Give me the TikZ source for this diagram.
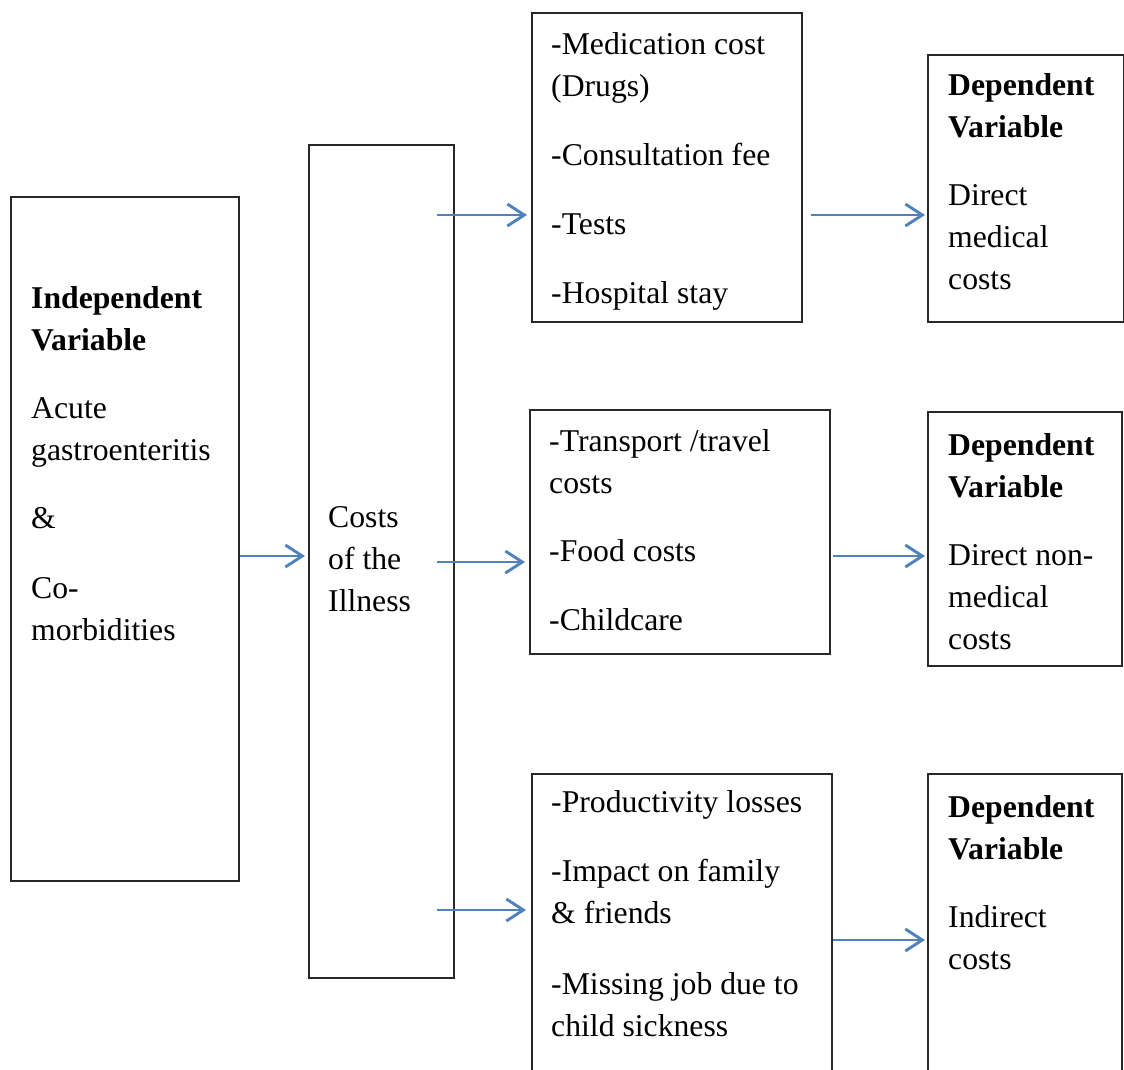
\documentclass[tikz,border=0pt]{standalone}
\usepackage{fontspec}
\setmainfont{Liberation Serif}
\usetikzlibrary{arrows.meta,calc}
\definecolor{arrblue}{RGB}{79,129,189}
\definecolor{boxline}{RGB}{40,40,40}
\begin{document}
\begin{tikzpicture}[x=1pt,y=-1pt,
  box/.style={draw=boxline,line width=1.6pt,rectangle,inner sep=0pt,anchor=north west},
  txt/.style={anchor=base west,inner sep=0pt,align=left,font=\fontsize{31.7}{42}\selectfont},
  arr/.style={draw=arrblue,line width=2.9pt,-{Straight Barb[length=17pt,width=22pt,line width=2.9pt]}}
]
\useasboundingbox (0,0) rectangle (1124,1069);
\clip (0,0) rectangle (1124,1069);
% boxes
\node[box,minimum width=228pt,minimum height=684pt] (indep) at (10,196) {};
\node[box,minimum width=145pt,minimum height=833pt] (costs) at (308,144) {};
\node[box,minimum width=270pt,minimum height=309pt] (medA) at (531,12) {};
\node[box,minimum width=300pt,minimum height=244pt] (medB) at (529,409) {};
\node[box,minimum width=300pt,minimum height=330pt] (medC) at (531,773) {};
\node[box,minimum width=196pt,minimum height=267pt] (dep1) at (927,54) {};
\node[box,minimum width=194pt,minimum height=254pt] (dep2) at (927,411) {};
\node[box,minimum width=194pt,minimum height=330pt] (dep3) at (927,773) {};
% texts (anchored at the baseline of their last line)
\node[txt] (tindep) at (31,640) {\textbf{Independent}\\\textbf{Variable}\\[26pt]Acute\\gastroenteritis\\[26pt]\&\\[28pt]Co-\\morbidities};
\node[txt] (tcosts) at (328,611) {Costs\\of the\\Illness};
\node[txt] (tA) at (551,303) {-Medication cost\\(Drugs)\\[27pt]-Consultation fee\\[27pt]-Tests\\[27pt]-Hospital stay};
\node[txt] (tB) at (549,630) {-Transport /travel\\costs\\[26pt]-Food costs\\[27pt]-Childcare};
\node[txt] (tC) at (551,1036) {-Productivity losses\\[27pt]-Impact on family\\\& friends\\[29pt]-Missing job due to\\child sickness};
\node[txt] (td1) at (948,289) {\textbf{Dependent}\\\textbf{Variable}\\[26pt]Direct\\medical\\costs};
\node[txt] (td2) at (948,649) {\textbf{Dependent}\\\textbf{Variable}\\[26pt]Direct non-\\medical\\costs};
\node[txt] (td3) at (948,969) {\textbf{Dependent}\\\textbf{Variable}\\[26pt]Indirect\\costs};
% arrow rows
\coordinate (r1) at (0,556);
\coordinate (r2) at (0,215);
\coordinate (r3) at (0,562);
\coordinate (r4) at (0,910);
\coordinate (r5) at (0,556);
\coordinate (r6) at (0,940);
\draw[arr] (indep.east |- r1) -- ($(costs.west |- r1)+(-3,0)$);
\draw[arr] ($(costs.east |- r2)+(-18,0)$) -- ($(medA.west |- r2)+(-4,0)$);
\draw[arr] ($(costs.east |- r3)+(-18,0)$) -- ($(medB.west |- r3)+(-4,0)$);
\draw[arr] ($(costs.east |- r4)+(-18,0)$) -- ($(medC.west |- r4)+(-5,0)$);
\draw[arr] ($(medA.east |- r2)+(8,0)$) -- ($(dep1.west |- r2)+(-2,0)$);
\draw[arr] ($(medB.east |- r5)+(2,0)$) -- ($(dep2.west |- r5)+(-2,0)$);
\draw[arr] (medC.east |- r6) -- ($(dep3.west |- r6)+(-2,0)$);
\end{tikzpicture}
\end{document}
